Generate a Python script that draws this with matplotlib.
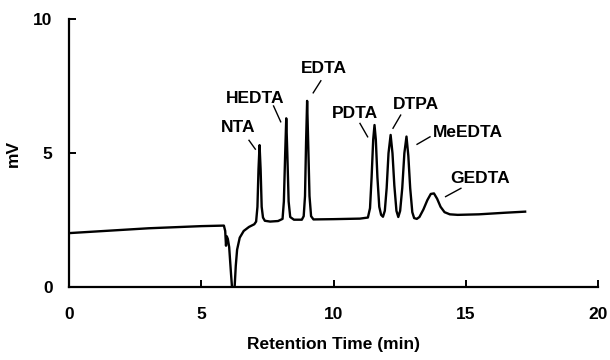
import matplotlib
matplotlib.use("Agg")
import matplotlib.pyplot as plt

# Chromatogram trace (time in min, signal in mV)
time_min = [0.0, 1.0, 2.0, 3.0, 4.0, 5.0, 5.85, 5.90, 5.93, 5.96, 6.00, 6.05,
            6.12, 6.18, 6.24, 6.30, 6.35, 6.45, 6.60, 6.80, 7.00, 7.07, 7.12,
            7.16, 7.20, 7.24, 7.28, 7.33, 7.40, 7.60, 7.90, 8.07, 8.12, 8.17,
            8.21, 8.25, 8.30, 8.36, 8.50, 8.80, 8.87, 8.92, 8.96, 9.00, 9.04,
            9.09, 9.15, 9.24, 10.0, 11.0, 11.30, 11.38, 11.44, 11.50, 11.55,
            11.60, 11.66, 11.73, 11.80, 11.87, 11.94, 12.01, 12.08, 12.16,
            12.23, 12.30, 12.38, 12.45, 12.52, 12.60, 12.68, 12.76, 12.83,
            12.90, 12.98, 13.05, 13.15, 13.25, 13.40, 13.55, 13.68, 13.80,
            13.92, 14.05, 14.20, 14.40, 14.70, 15.5, 16.5, 17.25]
signal_mv = [2.02, 2.08, 2.14, 2.20, 2.24, 2.28, 2.30, 2.10, 1.55, 1.90, 1.80, 1.50,
             0.50, -0.30, -0.30, 0.80, 1.40, 1.85, 2.10, 2.25, 2.35, 2.45, 3.00,
             4.40, 5.30, 4.40, 3.00, 2.60, 2.48, 2.45, 2.47, 2.55, 3.20, 5.00,
             6.30, 5.00, 3.20, 2.62, 2.52, 2.52, 2.65, 3.40, 5.40, 6.95, 5.40,
             3.40, 2.65, 2.53, 2.54, 2.56, 2.60, 2.95, 4.10, 5.50, 6.05,
             5.50, 4.10, 3.00, 2.70, 2.63, 2.85, 3.70, 5.00, 5.68,
             5.00, 3.80, 2.85, 2.62, 2.85, 3.70, 5.00, 5.62, 4.90,
             3.70, 2.80, 2.58, 2.55, 2.62, 2.90, 3.25, 3.48, 3.50,
             3.30, 3.00, 2.80, 2.72, 2.70, 2.72, 2.78, 2.82]

# Peak labels: text, text position, leader line start/end
peak_names = ["NTA", "HEDTA", "EDTA", "PDTA", "DTPA", "MeEDTA", "GEDTA"]
label_x = [6.38, 7.05, 9.63, 10.80, 13.13, 15.09, 15.56]
label_y = [5.97, 7.04, 8.14, 6.48, 6.82, 5.76, 4.04]
lead_x0 = [6.80, 7.73, 9.52, 11.00, 12.54, 13.65, 14.82]
lead_y0 = [5.48, 6.76, 7.70, 6.11, 6.42, 5.61, 3.69]
lead_x1 = [7.04, 8.00, 9.23, 11.29, 12.25, 13.16, 14.24]
lead_y1 = [5.15, 6.17, 7.25, 5.61, 5.93, 5.33, 3.38]

x_ticks = [0, 5, 10, 15, 20]
y_ticks = [0, 5, 10]

plt.rcParams['font.family'] = ['Liberation Sans', 'DejaVu Sans']
plt.rcParams['font.weight'] = 'bold'

fig = plt.figure(figsize=(6.1, 3.6), dpi=100)
ax = fig.add_axes([0.1136, 0.202, 0.8664, 0.745])

ax.plot(time_min, signal_mv, color='black', lw=1.7, clip_on=True)

for name, tx, ty, x0, y0, x1, y1 in zip(peak_names, label_x, label_y,
                                         lead_x0, lead_y0, lead_x1, lead_y1):
    ax.text(tx, ty, name, ha='center', va='center', fontsize=12.5,
            fontweight='bold')
    ax.plot([x0, x1], [y0, y1], color='black', lw=1.0)

ax.set_xlim(0, 20)
ax.set_ylim(0, 10)
ax.set_xticks(x_ticks)
ax.set_yticks(y_ticks)
ax.spines['top'].set_visible(False)
ax.spines['right'].set_visible(False)
ax.spines['left'].set_linewidth(1.6)
ax.spines['bottom'].set_linewidth(1.6)
ax.tick_params(axis='x', direction='in', length=5, width=1.4, pad=14,
               labelsize=12.5)
ax.tick_params(axis='y', direction='in', length=5, width=1.4, pad=12,
               labelsize=12.5)
for lab in ax.get_xticklabels() + ax.get_yticklabels():
    lab.set_fontweight('bold')

ax.set_xlabel('Retention Time (min)', fontsize=12.5, fontweight='bold',
              labelpad=11)
ax.set_ylabel('mV', fontsize=12.5, fontweight='bold', labelpad=9)

fig.savefig('out.png', dpi=100)
